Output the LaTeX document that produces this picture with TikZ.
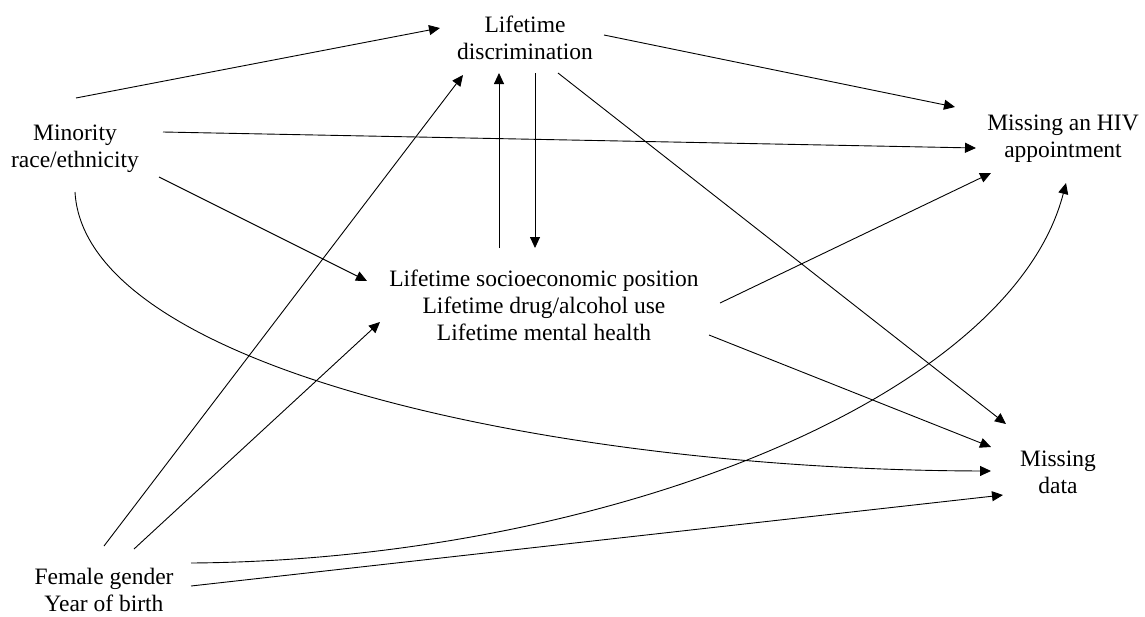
\documentclass[tikz,border=0pt]{standalone}
\usepackage{fontspec}
\setmainfont{Liberation Serif}
\usetikzlibrary{arrows.meta,calc}
\begin{document}
\begin{tikzpicture}[x=1pt,y=-1pt,
  lbl/.style={align=center,font=\fontsize{23.5}{27}\selectfont,inner sep=0pt},
  arr/.style={-{Triangle[length=11pt,width=10pt]},line width=0.9pt}]
\useasboundingbox (0,0) rectangle (1145,616);
\node[lbl] (LD) at (525,38) {Lifetime\\discrimination};
\node[lbl] (MR) at (75,149) {Minority\\race/ethnicity};
\node[lbl] (HIV) at (1063,139) {Missing an HIV\\appointment};
\node[lbl] (SEP) at (544,305) {Lifetime socioeconomic position\\Lifetime drug/alcohol use\\Lifetime mental health};
\node[lbl] (MD) at (1058,472) {Missing\\data};
\node[lbl] (FG) at (104,590) {Female gender\\Year of birth};
% from Minority
\draw[arr] ($(MR)+(1,-51)$) -- ($(LD)+(-85,-10)$);
\draw[arr] ($(MR)+(88,-17)$) -- ($(HIV)+(-87,9)$);
\draw[arr] ($(MR)+(84,28)$) -- ($(SEP)+(-177,-24)$);
\draw[arr] ($(MR)+(0,43)$) .. controls (85,370) and (560,470) .. ($(MD)+(-67,-1)$);
% from Lifetime discrimination
\draw[arr] ($(LD)+(79,-3)$) -- ($(HIV)+(-108,-32)$);
\draw[arr] ($(LD)+(33,35)$) -- ($(MD)+(-52,-48)$);
\draw[arr] ($(LD)+(10,35)$) -- ($(SEP)+(-9,-57)$);
% from SEP
\draw[arr] ($(SEP)+(-45,-57)$) -- ($(LD)+(-26,35)$);
\draw[arr] ($(SEP)+(176,-2)$) -- ($(HIV)+(-72,34)$);
\draw[arr] ($(SEP)+(165,30)$) -- ($(MD)+(-67,-25)$);
% from Female gender
\draw[arr] ($(FG)+(0,-44)$) -- ($(LD)+(-62,37)$);
\draw[arr] ($(FG)+(30,-41)$) -- ($(SEP)+(-164,17)$);
\draw[arr] ($(FG)+(87,-27)$) .. controls (600,560) and (1010,400) .. ($(HIV)+(3,44)$);
\draw[arr] ($(FG)+(87,-4)$) -- ($(MD)+(-55,23)$);
\end{tikzpicture}
\end{document}
